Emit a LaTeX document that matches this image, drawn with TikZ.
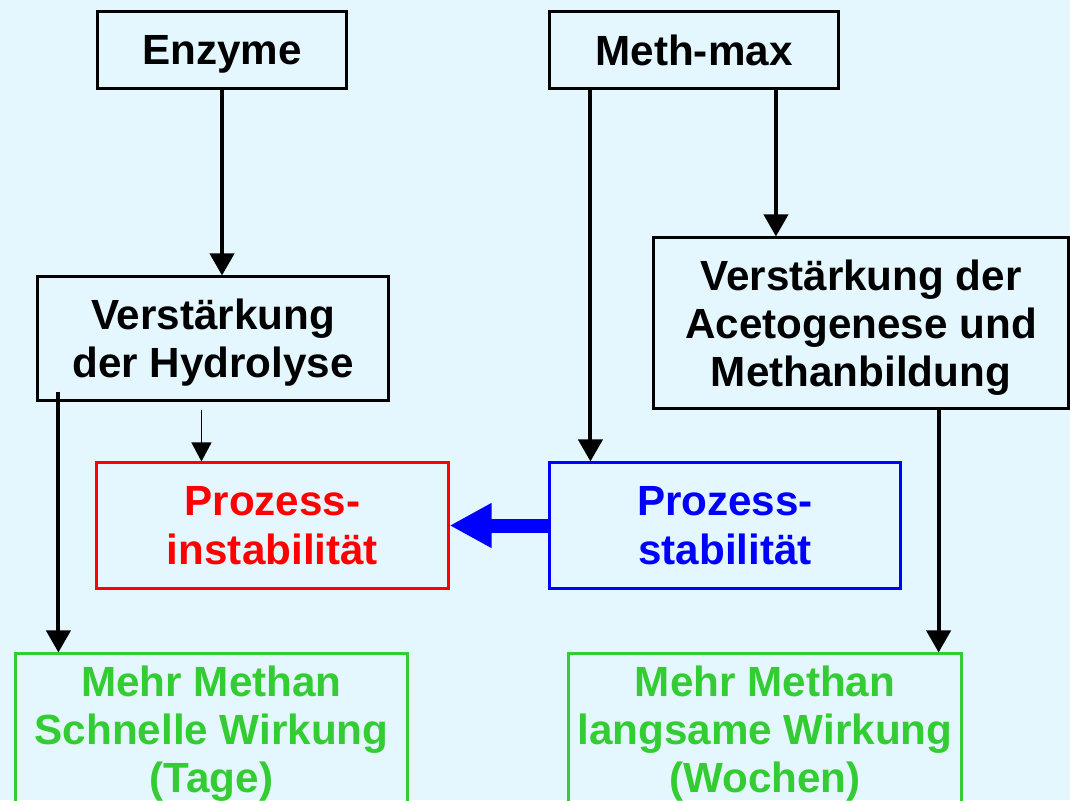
\documentclass[tikz,border=0pt]{standalone}
\usepackage{fontspec}
\setmainfont{Liberation Sans}
\usetikzlibrary{arrows.meta,positioning,calc}
\definecolor{bgcyan}{RGB}{228,247,255}
\definecolor{mgreen}{RGB}{51,204,51}
\definecolor{mred}{RGB}{255,0,0}
\definecolor{mblue}{RGB}{0,0,255}
\tikzset{
  box/.style={rectangle,draw,line width=0.03cm,align=center,inner sep=0pt,text depth=0pt,
    font=\fontsize{12}{13.7}\selectfont\bfseries},
  arr/.style={-{Triangle[length=0.22cm,width=0.24cm]},line width=0.04cm},
  thinarr/.style={-{Triangle[length=0.19cm,width=0.2cm]},line width=0.014cm},
  bigarr/.style={-{Triangle[length=0.42cm,width=0.42cm]},line width=0.14cm,mblue},
}

\begin{document}
\begin{tikzpicture}[x=0.01cm,y=-0.01cm]
  \fill[bgcyan] (0,0) rectangle (1070,800);
  \clip (0,0) rectangle (1070,800);

  \node[box,minimum width=2.48cm,minimum height=0.76cm] (enzyme) at (222,50) {Enzyme};
  \node[box,minimum width=2.88cm,minimum height=0.76cm] (meth) at (694,50) {Meth-max};

  \node[box,minimum width=3.5cm,minimum height=1.23cm] (hydro) at (213,338.5) {Verstärkung\\der Hydrolyse};
  \node[box,minimum width=4.15cm,minimum height=1.7cm] (aceto) at (861,323) {Verstärkung der\\Acetogenese und\\Methanbildung};

  \node[box,draw=mred,text=mred,minimum width=3.51cm,minimum height=1.25cm] (instab) at (272.5,525.5) {Prozess-\\instabilität};
  \node[box,draw=mblue,text=mblue,minimum width=3.5cm,minimum height=1.25cm] (stab) at (725,525.5) {Prozess-\\stabilität};

  \node[box,draw=mgreen,text=mgreen,minimum width=3.91cm,minimum height=1.5cm] (gleft) at (211.5,729) {Mehr Methan\\Schnelle Wirkung\\(Tage)};
  \node[box,draw=mgreen,text=mgreen,minimum width=3.92cm,minimum height=1.5cm] (gright) at (765,729) {Mehr Methan\\langsame Wirkung\\(Wochen)};

  % helper points on the box edges
  \coordinate (m1) at ([xshift=0.42cm]stab.north west);
  \coordinate (m2) at ([xshift=1.24cm]aceto.north west);
  \coordinate (h1) at ([xshift=1.06cm]instab.north west);
  \coordinate (h0) at (h1 |- hydro.south);
  \coordinate (g1) at ([xshift=0.44cm]gleft.north west);
  \coordinate (h2) at (g1 |- hydro.south);
  \coordinate (g2) at ([xshift=3.71cm]gright.north west);

  \draw[arr] (enzyme.south) -- (enzyme.south |- hydro.north);
  \draw[arr] (m1 |- meth.south) -- (m1);
  \draw[arr] (m2 |- meth.south) -- (m2);
  \draw[thinarr] ([yshift=-0.08cm]h0) -- (h1);
  \draw[arr] ([yshift=0.1cm]h2) -- (g1);
  \draw[arr] (g2 |- aceto.south) -- (g2);
  \draw[bigarr] (stab.west) -- (instab.east);

\end{tikzpicture}
\end{document}
